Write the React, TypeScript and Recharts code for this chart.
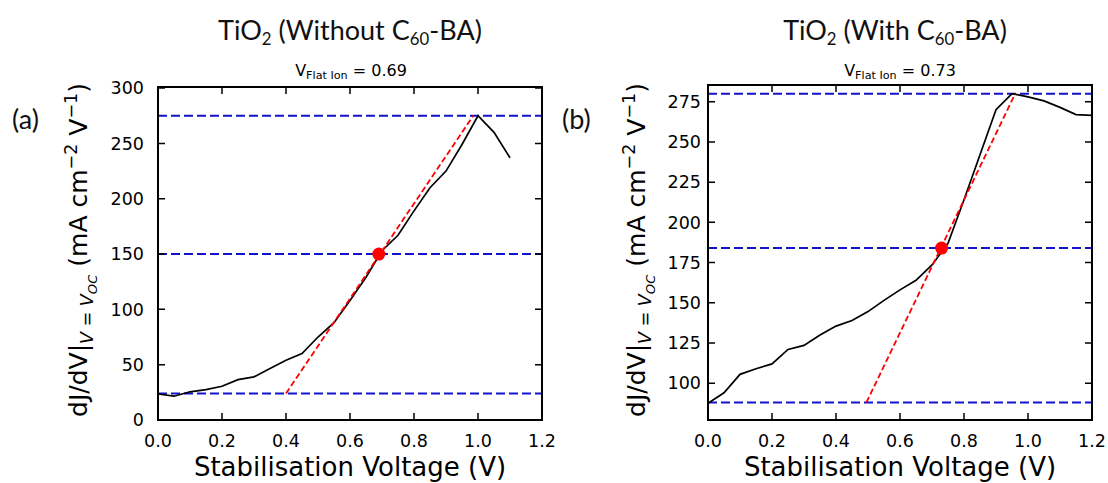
import React from 'react'
import { LineChart, Line, XAxis, YAxis, ReferenceLine, ReferenceDot } from 'recharts'

// panel (a): TiO2 without C60-BA
const voltageA = [0, 0.05, 0.1, 0.15, 0.2, 0.25, 0.3, 0.35, 0.4, 0.45, 0.5, 0.55, 0.6, 0.65, 0.7, 0.75, 0.8, 0.85, 0.9, 0.95, 1.0, 1.05, 1.1]
const dJdVA = [23.5, 21.5, 25.5, 27.5, 30.5, 36.5, 39, 46.5, 54, 60, 75, 88, 108, 129, 153, 167, 189, 210, 225, 249, 275, 260, 237]
const levelsA = [275, 150, 24]
const tangentA = [{ x: 0.4, y: 24 }, { x: 0.985, y: 275 }]
const flatA = { x: 0.69, y: 150 }

// panel (b): TiO2 with C60-BA
const voltageB = [0, 0.05, 0.1, 0.15, 0.2, 0.25, 0.3, 0.35, 0.4, 0.45, 0.5, 0.55, 0.6, 0.65, 0.7, 0.75, 0.8, 0.85, 0.9, 0.95, 1.0, 1.05, 1.1, 1.15, 1.2]
const dJdVB = [87.5, 94, 105.5, 109, 112, 121, 123.5, 130, 135.5, 139, 144.5, 151.5, 158, 164, 173.5, 187, 214, 242, 270, 280, 278, 275.5, 271.5, 267, 266.5]
const levelsB = [280, 184, 88]
const tangentB = [{ x: 0.495, y: 88 }, { x: 0.96, y: 280 }]
const flatB = { x: 0.73, y: 184 }

const xTicks = [0, 0.2, 0.4, 0.6, 0.8, 1.0, 1.2]
const yTicksA = [0, 50, 100, 150, 200, 250, 300]
const yTicksB = [100, 125, 150, 175, 200, 225, 250, 275]

const H = 483
const PLOT_BOTTOM = 420
const TICK = 7
const FONT = 'DejaVu Sans'
const frame = { stroke: '#000', strokeWidth: 2 }

const sub = (s: string, scale = 0.62, top = '0.32em') => (
  <span style={{ fontSize: `${scale}em`, position: 'relative', top }}>{s}</span>
)
const sup = (s: string) => (
  <span style={{ fontSize: '0.7em', position: 'relative', top: '-0.6em' }}>{s}</span>
)

interface PanelProps {
  left: number
  width: number
  plotLeft: number
  plotRight: number
  plotTop: number
  voltage: number[]
  values: number[]
  yDomain: [number, number]
  yTicks: number[]
  yLabelGap: number
  levels: number[]
  tangent: { x: number; y: number }[]
  flat: { x: number; y: number }
}

function Panel(p: PanelProps) {
  const data = p.voltage.map((v, i) => ({ v, d: p.values[i] }))

  // inward ticks on bottom and top edges + label below
  const xTick = (t: any) => (
    <g>
      <path d={`M${t.x},${PLOT_BOTTOM}V${PLOT_BOTTOM - TICK}M${t.x},${p.plotTop}V${p.plotTop + TICK}`}
        stroke="#000" strokeWidth={1.5} fill="none" />
      <text x={t.x} y={PLOT_BOTTOM + 27} textAnchor="middle" fontSize={17.5} fontFamily={FONT} fill="#000">
        {Number(t.payload.value).toFixed(1)}
      </text>
    </g>
  )
  // inward ticks on left and right edges + label left
  const yTick = (t: any) => (
    <g>
      <path d={`M${p.plotLeft},${t.y}H${p.plotLeft + TICK}M${p.plotRight},${t.y}H${p.plotRight - TICK}`}
        stroke="#000" strokeWidth={1.5} fill="none" />
      <text x={p.plotLeft - p.yLabelGap} y={t.y} dy="0.36em" textAnchor="end" fontSize={17.5} fontFamily={FONT} fill="#000">
        {t.payload.value}
      </text>
    </g>
  )

  return (
    <div style={{ position: 'absolute', left: p.left, top: 0, width: p.width, height: H }}>
      <LineChart width={p.width} height={H} data={data}
        margin={{ top: p.plotTop, right: p.width - p.plotRight, bottom: 0, left: 0 }}>
        <XAxis type="number" dataKey="v" domain={[0, 1.2]} ticks={xTicks} interval={0} height={H - PLOT_BOTTOM}
          tickSize={0} tickLine={false} axisLine={frame} tick={xTick} allowDataOverflow />
        <YAxis type="number" domain={p.yDomain} ticks={p.yTicks} interval={0} width={p.plotLeft}
          tickSize={0} tickLine={false} axisLine={frame} tick={yTick} allowDataOverflow />
        {p.levels.map(y => (
          <ReferenceLine key={y} y={y} stroke="#1212cc" strokeWidth={2} strokeDasharray="9 4" />
        ))}
        <Line dataKey="d" stroke="#000" strokeWidth={1.7} dot={false} isAnimationActive={false} />
        <ReferenceLine segment={p.tangent} stroke="#f00" strokeWidth={1.8} strokeDasharray="6 3" />
        <ReferenceDot x={p.flat.x} y={p.flat.y} r={6.5} fill="#f00" stroke="none" />
      </LineChart>
      {/* plot box outline, drawn above the chart */}
      <div style={{
        position: 'absolute', zIndex: 10, boxSizing: 'border-box', pointerEvents: 'none',
        left: p.plotLeft - 1, top: p.plotTop - 1,
        width: p.plotRight - p.plotLeft + 2, height: PLOT_BOTTOM - p.plotTop + 2,
        border: '2px solid #000',
      }} />
    </div>
  )
}

const titleStyle: React.CSSProperties = {
  position: 'absolute', top: 16, transform: 'translateX(-50%)', whiteSpace: 'nowrap',
  fontFamily: 'Lato', fontSize: 27, lineHeight: 1, color: '#111',
}
const subtitleStyle: React.CSSProperties = {
  position: 'absolute', top: 63, transform: 'translateX(-50%)', whiteSpace: 'nowrap',
  fontFamily: FONT, fontSize: 16, lineHeight: 1, color: '#000',
}
const panelLabel: React.CSSProperties = {
  position: 'absolute', top: 105, fontFamily: 'Lato', fontSize: 27, lineHeight: 1, color: '#111',
}
const xLabel: React.CSSProperties = {
  position: 'absolute', top: 454, transform: 'translateX(-50%)', whiteSpace: 'nowrap',
  fontFamily: FONT, fontSize: 26, lineHeight: 1, color: '#000',
}
const yLabel: React.CSSProperties = {
  position: 'absolute', top: 250, transform: 'translate(-50%, -50%) rotate(-90deg)', whiteSpace: 'nowrap',
  fontFamily: FONT, fontSize: 25, lineHeight: 1, color: '#000',
}

function YLabel({ x }: { x: number }) {
  return (
    <div style={{ ...yLabel, left: x }}>
      dJ/dV|<span style={{ fontSize: '0.7em', position: 'relative', top: '0.35em' }}>
        <i>V</i> = <i>V</i><span style={{ fontSize: '0.75em', position: 'relative', top: '0.3em' }}><i>OC</i></span>
      </span> (mA cm{sup('−2')} V{sup('−1')})
    </div>
  )
}

export default function App() {
  return (
    <div style={{ position: 'absolute', left: 0, top: 0, width: 1108, height: H, background: '#fff' }}>
      <Panel left={0} width={600} plotLeft={158} plotRight={542} plotTop={87} voltage={voltageA} values={dJdVA}
        yDomain={[0, 301]} yTicks={yTicksA} yLabelGap={14} levels={levelsA} tangent={tangentA} flat={flatA} />
      <Panel left={554} width={554} plotLeft={154} plotRight={538} plotTop={85} voltage={voltageB} values={dJdVB}
        yDomain={[77.1, 285.4]} yTicks={yTicksB} yLabelGap={7} levels={levelsB} tangent={tangentB} flat={flatB} />

      <div style={{ ...titleStyle, left: 350 }}>TiO{sub('2')} (Without C{sub('60')}-BA)</div>
      <div style={{ ...titleStyle, left: 895 }}>TiO{sub('2')} (With C{sub('60')}-BA)</div>
      <div style={{ ...subtitleStyle, left: 351 }}>V{sub('Flat Ion', 0.7, '0.25em')} = 0.69</div>
      <div style={{ ...subtitleStyle, left: 900 }}>V{sub('Flat Ion', 0.7, '0.25em')} = 0.73</div>
      <div style={{ ...panelLabel, left: 12 }}>(a)</div>
      <div style={{ ...panelLabel, left: 562 }}>(b)</div>
      <YLabel x={78} />
      <YLabel x={636} />
      <div style={{ ...xLabel, left: 350 }}>Stabilisation Voltage (V)</div>
      <div style={{ ...xLabel, left: 900 }}>Stabilisation Voltage (V)</div>
    </div>
  )
}
